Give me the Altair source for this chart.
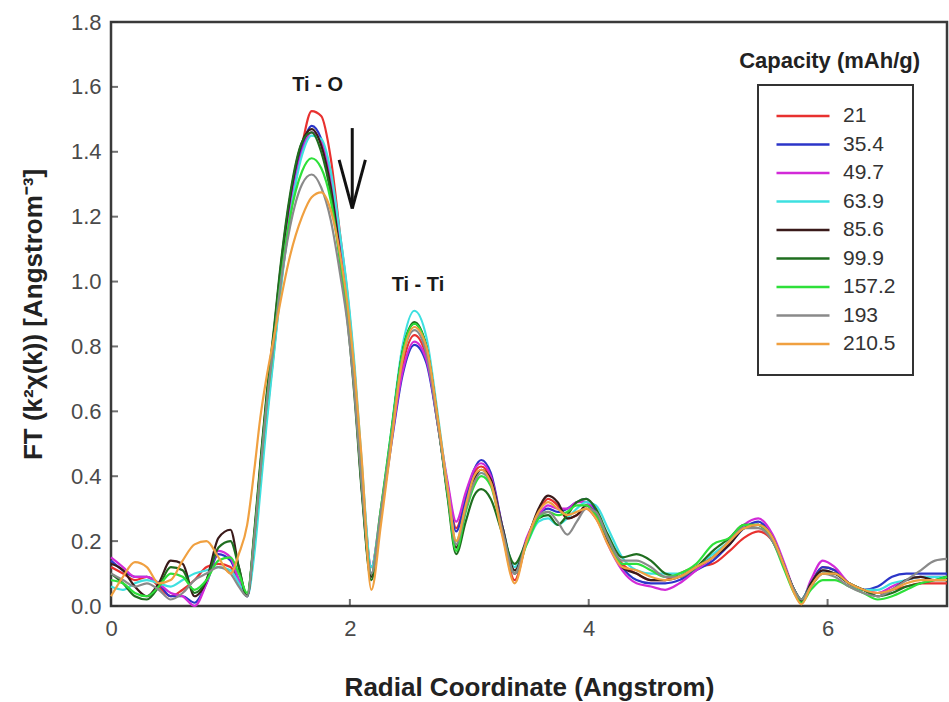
import altair as alt
import pandas as pd

# Radial coordinate grid (Angstrom)
R = [0.00, 0.10, 0.20, 0.30, 0.40, 0.50, 0.60, 0.70, 0.80, 0.90, 1.00, 1.07,
     1.14, 1.20, 1.25, 1.30, 1.36, 1.42, 1.50, 1.60, 1.68, 1.76, 1.84, 1.92, 1.98, 2.04, 2.10, 2.18,
     2.26, 2.34, 2.44, 2.54, 2.64, 2.74, 2.82, 2.89,
     2.97, 3.04, 3.10, 3.18, 3.28, 3.38,
     3.48, 3.58, 3.66, 3.74, 3.82, 3.90, 3.98, 4.06, 4.16, 4.28,
     4.40, 4.52, 4.64, 4.76, 4.90, 5.04,
     5.18, 5.30, 5.42, 5.54, 5.64, 5.72, 5.78, 5.86, 5.96, 6.06, 6.18, 6.30, 6.42, 6.54,
     6.66, 6.78, 6.90, 7.00]

CAPACITY = ["21", "35.4", "49.7", "63.9", "85.6", "99.9", "157.2", "193", "210.5"]
COLORS = ["#e8312f", "#2b35c8", "#d22ad8", "#3ee0e0", "#3a1a1a",
          "#1f6e1f", "#2ee03a", "#8a8a8a", "#f0a040"]

FT_21 = [0.12, 0.10, 0.08, 0.09, 0.06, 0.03, 0.05, 0.08, 0.12, 0.13, 0.12, 0.07,
         0.03, 0.19, 0.38, 0.57, 0.77, 0.98, 1.20, 1.42, 1.525, 1.51, 1.38, 1.14, 0.96, 0.72, 0.42, 0.12,
         0.30, 0.50, 0.74, 0.835, 0.77, 0.55, 0.37, 0.24,
         0.33, 0.41, 0.43, 0.39, 0.22, 0.08,
         0.20, 0.29, 0.33, 0.31, 0.27, 0.28, 0.30, 0.27, 0.20, 0.13,
         0.10, 0.08, 0.08, 0.10, 0.12, 0.13,
         0.17, 0.21, 0.23, 0.20, 0.12, 0.05, 0.02, 0.07, 0.12, 0.11, 0.07, 0.05, 0.04, 0.05,
         0.06, 0.07, 0.07, 0.07]
FT_35_4 = [0.14, 0.11, 0.09, 0.09, 0.07, 0.03, 0.03, 0.01, 0.07, 0.16, 0.14, 0.08,
           0.03, 0.20, 0.40, 0.60, 0.80, 1.02, 1.24, 1.41, 1.48, 1.44, 1.31, 1.10, 0.93, 0.69, 0.38, 0.10,
           0.28, 0.48, 0.71, 0.805, 0.75, 0.55, 0.36, 0.23,
           0.33, 0.42, 0.45, 0.41, 0.24, 0.10,
           0.20, 0.28, 0.30, 0.29, 0.30, 0.32, 0.33, 0.29, 0.20, 0.12,
           0.08, 0.07, 0.07, 0.08, 0.11, 0.14,
           0.19, 0.24, 0.26, 0.21, 0.12, 0.05, 0.02, 0.07, 0.12, 0.11, 0.07, 0.05, 0.06, 0.09,
           0.10, 0.10, 0.10, 0.10]
FT_49_7 = [0.15, 0.12, 0.09, 0.09, 0.07, 0.04, 0.03, 0.00, 0.07, 0.17, 0.15, 0.08,
           0.03, 0.20, 0.40, 0.60, 0.79, 1.00, 1.22, 1.40, 1.46, 1.43, 1.31, 1.10, 0.93, 0.70, 0.40, 0.12,
           0.29, 0.49, 0.72, 0.815, 0.76, 0.56, 0.38, 0.26,
           0.35, 0.42, 0.44, 0.40, 0.24, 0.10,
           0.21, 0.28, 0.31, 0.30, 0.30, 0.32, 0.32, 0.28, 0.19, 0.11,
           0.07, 0.06, 0.05, 0.07, 0.11, 0.15,
           0.20, 0.25, 0.27, 0.22, 0.13, 0.05, 0.015, 0.08, 0.14, 0.12, 0.07, 0.05, 0.04, 0.06,
           0.08, 0.09, 0.09, 0.09]
FT_63_9 = [0.06, 0.05, 0.07, 0.08, 0.07, 0.06, 0.08, 0.10, 0.11, 0.12, 0.11, 0.07,
           0.03, 0.16, 0.35, 0.55, 0.76, 0.97, 1.20, 1.39, 1.45, 1.44, 1.34, 1.14, 0.97, 0.74, 0.44, 0.12,
           0.30, 0.52, 0.80, 0.91, 0.83, 0.58, 0.36, 0.20,
           0.30, 0.39, 0.41, 0.38, 0.24, 0.12,
           0.19, 0.26, 0.27, 0.25, 0.27, 0.30, 0.32, 0.31, 0.24, 0.15,
           0.11, 0.10, 0.10, 0.10, 0.12, 0.16,
           0.20, 0.24, 0.25, 0.21, 0.12, 0.05, 0.02, 0.07, 0.11, 0.10, 0.07, 0.05, 0.05, 0.07,
           0.08, 0.09, 0.09, 0.09]
FT_85_6 = [0.13, 0.11, 0.06, 0.03, 0.07, 0.14, 0.13, 0.03, 0.08, 0.21, 0.235, 0.12,
           0.03, 0.22, 0.43, 0.63, 0.83, 1.04, 1.26, 1.43, 1.47, 1.42, 1.29, 1.08, 0.90, 0.66, 0.36, 0.09,
           0.29, 0.51, 0.78, 0.87, 0.80, 0.56, 0.34, 0.18,
           0.30, 0.39, 0.42, 0.39, 0.24, 0.11,
           0.20, 0.30, 0.34, 0.32, 0.27, 0.28, 0.31, 0.28, 0.20, 0.12,
           0.10, 0.08, 0.08, 0.09, 0.12, 0.15,
           0.19, 0.24, 0.25, 0.21, 0.12, 0.05, 0.015, 0.07, 0.11, 0.10, 0.07, 0.05, 0.03, 0.05,
           0.08, 0.09, 0.08, 0.08]
FT_99_9 = [0.10, 0.07, 0.03, 0.02, 0.06, 0.12, 0.11, 0.04, 0.08, 0.18, 0.20, 0.12,
           0.03, 0.23, 0.44, 0.64, 0.84, 1.05, 1.27, 1.43, 1.46, 1.40, 1.27, 1.06, 0.88, 0.64, 0.35, 0.08,
           0.28, 0.51, 0.78, 0.875, 0.80, 0.56, 0.33, 0.16,
           0.26, 0.34, 0.36, 0.33, 0.22, 0.13,
           0.20, 0.27, 0.28, 0.25, 0.28, 0.32, 0.33, 0.30, 0.22, 0.15,
           0.16, 0.14, 0.10, 0.09, 0.12, 0.17,
           0.21, 0.25, 0.25, 0.20, 0.12, 0.05, 0.02, 0.06, 0.10, 0.10, 0.07, 0.05, 0.03, 0.04,
           0.06, 0.07, 0.08, 0.09]
FT_157_2 = [0.08, 0.07, 0.04, 0.03, 0.06, 0.10, 0.09, 0.05, 0.08, 0.14, 0.15, 0.10,
            0.04, 0.21, 0.41, 0.61, 0.80, 1.00, 1.20, 1.34, 1.38, 1.35, 1.25, 1.06, 0.90, 0.67, 0.38, 0.10,
            0.30, 0.52, 0.78, 0.87, 0.80, 0.56, 0.34, 0.17,
            0.29, 0.37, 0.40, 0.37, 0.22, 0.10,
            0.19, 0.27, 0.29, 0.28, 0.29, 0.31, 0.31, 0.28, 0.21, 0.13,
            0.13, 0.11, 0.09, 0.10, 0.13, 0.19,
            0.21, 0.25, 0.25, 0.20, 0.11, 0.04, 0.01, 0.05, 0.08, 0.08, 0.06, 0.04, 0.02, 0.03,
            0.05, 0.07, 0.08, 0.09]
FT_193 = [0.10, 0.08, 0.06, 0.07, 0.05, 0.02, 0.04, 0.08, 0.10, 0.12, 0.10, 0.06,
          0.03, 0.21, 0.41, 0.61, 0.80, 0.99, 1.17, 1.30, 1.33, 1.29, 1.19, 1.02, 0.87, 0.65, 0.37, 0.10,
          0.29, 0.50, 0.76, 0.85, 0.78, 0.55, 0.35, 0.19,
          0.30, 0.38, 0.41, 0.38, 0.23, 0.10,
          0.20, 0.28, 0.29, 0.26, 0.22, 0.26, 0.30, 0.29, 0.21, 0.14,
          0.14, 0.12, 0.09, 0.09, 0.12, 0.15,
          0.20, 0.24, 0.24, 0.20, 0.12, 0.05, 0.02, 0.06, 0.10, 0.09, 0.06, 0.04, 0.03, 0.05,
          0.08, 0.11, 0.14, 0.145]
FT_210_5 = [0.03, 0.09, 0.135, 0.12, 0.07, 0.08, 0.14, 0.19, 0.20, 0.15, 0.10, 0.16,
            0.25, 0.42, 0.58, 0.70, 0.82, 0.94, 1.08, 1.20, 1.26, 1.275, 1.22, 1.08, 0.93, 0.72, 0.45, 0.05,
            0.25, 0.48, 0.76, 0.86, 0.80, 0.57, 0.36, 0.20,
            0.31, 0.40, 0.42, 0.38, 0.21, 0.07,
            0.20, 0.29, 0.32, 0.30, 0.28, 0.29, 0.30, 0.27, 0.19, 0.12,
            0.11, 0.09, 0.08, 0.09, 0.12, 0.15,
            0.20, 0.24, 0.25, 0.21, 0.12, 0.04, 0.005, 0.06, 0.10, 0.10, 0.07, 0.05, 0.04, 0.05,
            0.07, 0.08, 0.08, 0.08]

X_TICKS = [0, 2, 4, 6]
Y_TICKS = [0.0, 0.2, 0.4, 0.6, 0.8, 1.0, 1.2, 1.4, 1.6, 1.8]

# Peak labels and the decreasing-intensity arrow, in data units
PEAK_LABELS = ["Ti - O", "Ti - Ti"]
PEAK_X = [1.73, 2.57]
PEAK_Y = [1.606, 0.99]
ARROW_X = [2.02, 1.91, 2.13]
ARROW_Y = [1.473, 1.375, 1.375]
ARROW_X2 = [2.02, 2.02, 2.02]
ARROW_Y2 = [1.23, 1.225, 1.225]
LEGEND_TITLE = "Capacity (mAh/g)"
LEGEND_TITLE_X = 6.017
LEGEND_TITLE_Y = 1.68

FONT = "Liberation Sans"
X_DOMAIN = [0, 7]
Y_DOMAIN = [0, 1.8]
PLOT_W = 836
PLOT_H = 584

series = [FT_21, FT_35_4, FT_49_7, FT_63_9, FT_85_6, FT_99_9, FT_157_2, FT_193, FT_210_5]
rows = []
for cap, values in zip(CAPACITY, series):
    for r, v in zip(R, values):
        rows.append({"r": r, "ft": v, "capacity": cap})
spectra = pd.DataFrame(rows)

peaks = pd.DataFrame({"x": PEAK_X, "y": PEAK_Y, "label": PEAK_LABELS})
arrow = pd.DataFrame({"x": ARROW_X, "y": ARROW_Y, "x2": ARROW_X2, "y2": ARROW_Y2})
legend_title = pd.DataFrame({"x": [LEGEND_TITLE_X], "y": [LEGEND_TITLE_Y], "label": [LEGEND_TITLE]})
x_ticks = pd.DataFrame({"x": X_TICKS})
y_ticks = pd.DataFrame({"y": Y_TICKS})

x_scale = alt.Scale(domain=X_DOMAIN, nice=False)
y_scale = alt.Scale(domain=Y_DOMAIN, nice=False)

lines = alt.Chart(spectra).mark_line(strokeWidth=2.2, interpolate="monotone").encode(
    x=alt.X("r:Q", scale=x_scale, axis=alt.Axis(
        orient="bottom", values=X_TICKS, format="d", ticks=False, tickSize=0,
        domain=False, grid=False, labelFlush=False,
        labelFont=FONT, labelFontSize=22, labelColor="#4a4a4a", labelPadding=12,
        title="Radial Coordinate (Angstrom)", titleFont=FONT, titleFontSize=26,
        titleFontWeight="bold", titleColor="#222222", titlePadding=35)),
    y=alt.Y("ft:Q", scale=y_scale, axis=alt.Axis(
        orient="left", values=Y_TICKS, format=".1f", ticks=False, tickSize=0,
        domain=False, grid=False, labelFlush=False,
        labelFont=FONT, labelFontSize=22, labelColor="#4a4a4a", labelPadding=10,
        title="FT (k²χ(k)) [Angstrom⁻³]", titleFont=FONT, titleFontSize=26,
        titleFontWeight="bold", titleColor="#222222", titlePadding=24)),
    color=alt.Color("capacity:N", sort=CAPACITY,
                    scale=alt.Scale(domain=CAPACITY, range=COLORS),
                    legend=alt.Legend(
                        orient="none", legendX=647, legendY=63, title=None,
                        symbolType="stroke", symbolSize=2809, symbolStrokeWidth=2.5,
                        clipHeight=28, rowPadding=0.5, padding=17, labelOffset=12,
                        labelFont=FONT, labelFontSize=21, labelColor="#333333",
                        strokeColor="#333333")),
    detail="capacity:N",
)

# Inward tick marks along the bottom and left edges, at the axis tick values
x_tick_marks = alt.Chart(x_ticks).mark_tick(
    orient="vertical", size=7, thickness=2, color="#333333", yOffset=-3.5,
).encode(
    x=alt.X("x:Q", scale=x_scale, axis=None),
    y=alt.value(PLOT_H),
)
y_tick_marks = alt.Chart(y_ticks).mark_tick(
    orient="horizontal", size=7, thickness=2, color="#333333", xOffset=3.5,
).encode(
    x=alt.value(0),
    y=alt.Y("y:Q", scale=y_scale, axis=None),
)

peak_text = alt.Chart(peaks).mark_text(
    font=FONT, fontSize=20, fontWeight="bold", color="#1a1a1a",
    align="center", baseline="middle",
).encode(
    x=alt.X("x:Q", scale=x_scale, axis=None),
    y=alt.Y("y:Q", scale=y_scale, axis=None),
    text="label:N",
)

arrow_marks = alt.Chart(arrow).mark_rule(color="#111111", strokeWidth=3).encode(
    x=alt.X("x:Q", scale=x_scale, axis=None),
    y=alt.Y("y:Q", scale=y_scale, axis=None),
    x2="x2:Q",
    y2="y2:Q",
)

legend_heading = alt.Chart(legend_title).mark_text(
    font=FONT, fontSize=22, fontWeight="bold", color="#222222",
    align="center", baseline="middle",
).encode(
    x=alt.X("x:Q", scale=x_scale, axis=None),
    y=alt.Y("y:Q", scale=y_scale, axis=None),
    text="label:N",
)

# Each layer keeps its own axes (only the spectra layer has any); scales stay shared
chart = alt.layer(
    lines, x_tick_marks, y_tick_marks, arrow_marks, peak_text, legend_heading
).resolve_axis(
    x="independent", y="independent",
).properties(
    width=PLOT_W,
    height=PLOT_H,
    padding={"left": 111, "top": 22, "right": 2, "bottom": 96},
    autosize=alt.AutoSizeParams(type="none"),
    background="white",
).configure_view(
    stroke="#3a3a3a", strokeWidth=2.5,
).configure_legend(
    strokeWidth=2,
)

chart.save("out.html", embed_options={"renderer": "svg", "actions": False})
